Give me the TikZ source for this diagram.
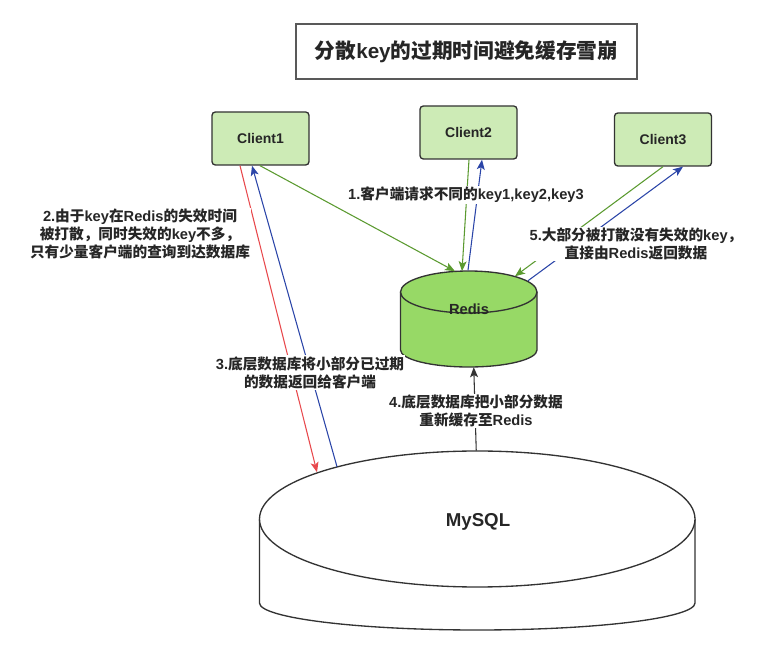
\documentclass[tikz,border=0pt]{standalone}
\usepackage{fontspec}
\setmainfont{Liberation Sans}
\newfontfamily\cjkfont{Noto Sans CJK SC}
\usetikzlibrary{arrows.meta,calc}
\XeTeXinterchartokenstate=1
\newXeTeXintercharclass\CJKcls
\newcount\cjkc
\def\setcjkrange#1#2{\cjkc=#1\relax\loop\XeTeXcharclass\cjkc=\CJKcls\relax\ifnum\cjkc<#2\relax\advance\cjkc by 1\relax\repeat}
\setcjkrange{"4E00}{"9FFF}
\setcjkrange{"3000}{"303F}
\setcjkrange{"FF00}{"FFEF}
\XeTeXinterchartoks 0 \CJKcls = {\cjkfont}
\XeTeXinterchartoks 4095 \CJKcls = {\cjkfont}
\XeTeXinterchartoks \CJKcls 0 = {\rmfamily}
\definecolor{clientfill}{HTML}{CDEBB6}
\definecolor{redisfill}{HTML}{97D966}
\definecolor{gline}{HTML}{5B9A30}
\definecolor{bline}{HTML}{2B45A8}
\definecolor{rline}{HTML}{E8494D}
\definecolor{txt}{HTML}{262626}
\definecolor{bordc}{HTML}{333333}
\begin{document}
\begin{tikzpicture}[x=0.75pt,y=-0.75pt,
  client/.style={draw=bordc, line width=1pt, fill=clientfill, rounded corners=2.5pt,
    minimum width=72.75pt, minimum height=39.75pt, inner sep=0pt,
    font=\bfseries\fontsize{10.5}{12}\selectfont, text=txt},
  lbl/.style={fill=white, inner sep=1pt, align=center, text=txt,
    font=\bfseries\fontsize{11}{13.5}\selectfont},
  conn/.style={line width=0.8pt, -{Stealth[length=7.5pt,width=6pt,inset=1.8pt]}},
  cyl/.style={draw=bordc, line width=1pt}
]
\useasboundingbox (0,0) rectangle (782,655);

% title
\node[draw=black!65, line width=1.3pt, minimum width=255.75pt, minimum height=41.25pt,
  font=\bfseries\fontsize{15.5}{18}\selectfont, text=txt] (title) at (466.5,51.5) {分散key的过期时间避免缓存雪崩};

% clients
\node[client] (c1) at (260.5,138.5) {Client1};
\node[client] (c2) at (468.5,132.5) {Client2};
\node[client] (c3) at (663,139.5) {Client3};

% Redis cylinder
\node[minimum width=102.375pt, minimum height=72pt, inner sep=0pt] (redis) at (468.75,319) {};
\fill[redisfill] (400.5,292) -- (400.5,350) .. controls (400.5,359.4) and (431.05,367) .. (468.75,367)
  .. controls (506.45,367) and (537,359.4) .. (537,350) -- (537,292) -- cycle;
\draw[cyl] (400.5,292) -- (400.5,350) .. controls (400.5,359.4) and (431.05,367) .. (468.75,367)
  .. controls (506.45,367) and (537,359.4) .. (537,350) -- (537,292);
\draw[cyl, fill=redisfill] (468.75,292) ellipse [x radius=51.1875pt, y radius=15.75pt];
\node[font=\bfseries\fontsize{11}{13}\selectfont, text=txt] (redislbl) at (469,309) {Redis};

% MySQL cylinder
\node[minimum width=163.3pt, minimum height=134.25pt, inner sep=0pt] (mysql) at (477.25,540.5) {};
\fill[white] (259.5,519) -- (259.5,603) .. controls (259.5,617.9) and (357,630) .. (477.25,630)
  .. controls (597.5,630) and (695,617.9) .. (695,603) -- (695,519) -- cycle;
\draw[cyl] (259.5,519) -- (259.5,603) .. controls (259.5,617.9) and (357,630) .. (477.25,630)
  .. controls (597.5,630) and (695,617.9) .. (695,603) -- (695,519);
\draw[cyl, fill=white] (477.25,519) ellipse [x radius=163.3125pt, y radius=51pt];
\node[font=\bfseries\fontsize{14}{16}\selectfont, text=txt] (mysqllbl) at (478,522) {MySQL};

% connectors
\draw[conn, gline] ($(c1.south)+(-0.5,0)$) -- ($(redis.north)+(-13.75,0.5)$);
\draw[conn, rline] ($(c1.south)+(-20.5,0)$) -- ($(mysql.north)+(-160.25,21.5)$);
\draw[conn, bline] ($(mysql.north)+(-140.25,16)$) -- ($(c1.south)+(-8.5,0)$);
\draw[conn, gline] ($(c2.south)+(0.5,0)$) -- ($(redis.north)+(-6.75,0.5)$);
\draw[conn, bline] ($(redis.north)+(-0.75,-0.5)$) -- ($(c2.south)+(13.5,0)$);
\draw[conn, gline] (c3.south) -- ($(redis.north)+(46.25,5.5)$);
\draw[conn, bline] ($(redis.north)+(59.25,10)$) -- ($(c3.south)+(20,0)$);
\draw[conn, bordc] ($(mysql.north)+(-1,0)$) -- ($(redis.south)+(5,0)$);

% labels
\node[lbl] (l1) at (466,195) {1.客户端请求不同的key1,key2,key3};
\node[lbl] (l2) at (140,234) {2.由于key在Redis的失效时间\\被打散，同时失效的key不多，\\只有少量客户端的查询到达数据库};
\node[lbl] (l3) at (310,372.5) {3.底层数据库将小部分已过期\\的数据返回给客户端};
\node[lbl] (l4) at (476,411) {4.底层数据库把小部分数据\\重新缓存至Redis};
\node[lbl] (l5) at (636,244) {5.大部分被打散没有失效的key，\\直接由Redis返回数据};
\end{tikzpicture}
\end{document}
